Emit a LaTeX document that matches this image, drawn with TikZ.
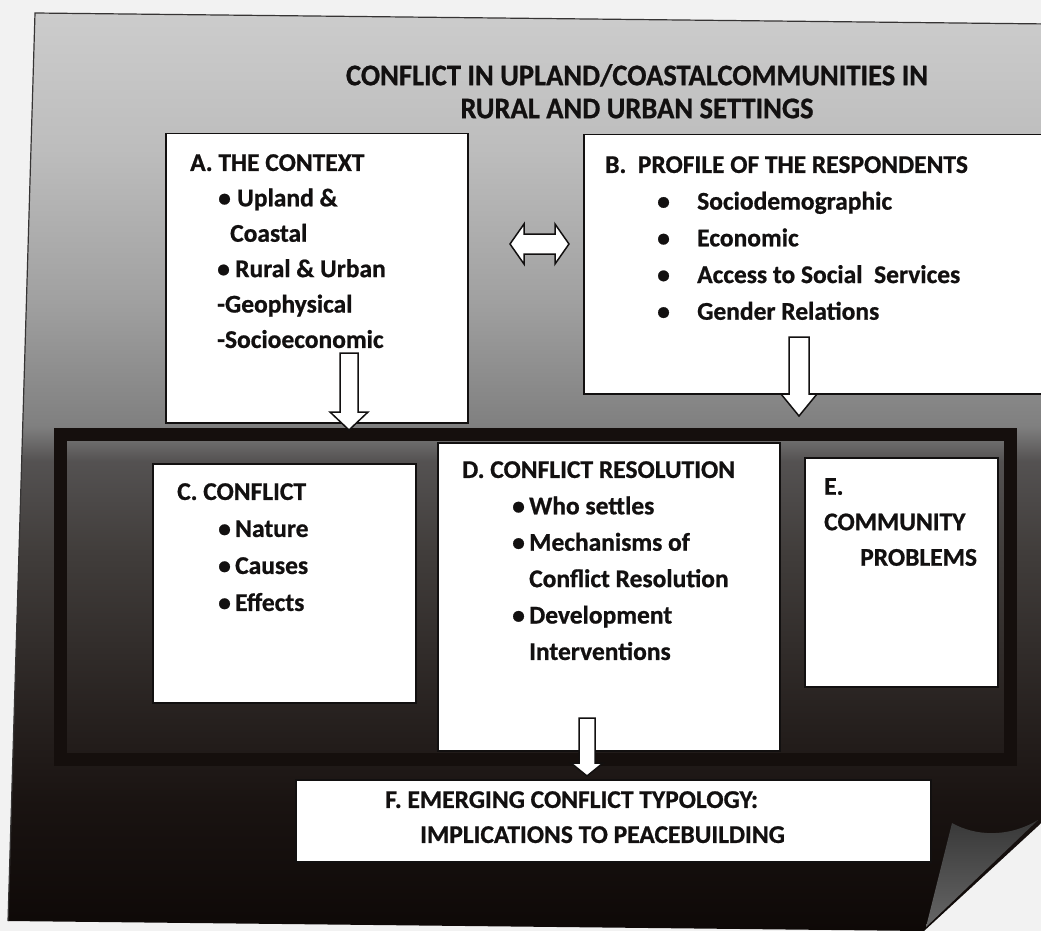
\documentclass[tikz,border=0pt]{standalone}
\usepackage{fontspec}
\setmainfont{Carlito}[BoldFeatures={FakeBold=0.8}]
\usetikzlibrary{calc}

\definecolor{ink}{HTML}{121010}
\definecolor{framecol}{HTML}{150f0d}
\definecolor{paperout}{HTML}{F2F2F2}

% sheet background: pale grey at the top, almost black at the foot
\pgfdeclareverticalshading{pagefade}{100bp}{%
  rgb(0bp)=(0.055,0.035,0.028); rgb(25bp)=(0.055,0.035,0.028);
  rgb(32bp)=(0.100,0.075,0.068); rgb(37.5bp)=(0.160,0.138,0.130);
  rgb(45.7bp)=(0.255,0.240,0.232); rgb(50.6bp)=(0.330,0.320,0.320);
  rgb(52.5bp)=(0.500,0.500,0.500); rgb(59.4bp)=(0.630,0.630,0.630);
  rgb(67.5bp)=(0.740,0.740,0.740); rgb(75bp)=(0.800,0.800,0.800);
  rgb(100bp)=(0.800,0.800,0.800)}

% hollow arrow pointing down: tail, tip, half shaft, half head, head length
\newcommand{\blockdown}[5]{%
  \draw[arrowbox] ($(#1)+(-#3,0)$) -- ($(#2)+(-#3,-#5)$) -- ($(#2)+(-#4,-#5)$)
    -- (#2) -- ($(#2)+(#4,-#5)$) -- ($(#2)+(#3,-#5)$) -- ($(#1)+(#3,0)$) -- cycle;}

\begin{document}
\begin{tikzpicture}[x=1pt, y=-1pt,
  box/.style={draw=ink, line width=1.5pt, fill=white, inner sep=0pt, anchor=north west},
  txt/.style={font=\fontsize{25.5}{36}\selectfont\bfseries, text=ink, align=left,
    inner sep=0pt, anchor=north west},
  arrowbox/.style={draw=ink, line width=1.5pt, fill=white}]

  \useasboundingbox (0,0) rectangle (1041,931);
  \fill[paperout] (0,0) rectangle (1041,931);

  % the sheet
  \shade[shading=pagefade] (35,13) -- (1050,24) -- (1050,815) -- (924,931) -- (8,921) -- cycle;
  \draw[ink!85, line width=1.2pt] (8,921) -- (35,13) -- (1050,24);

  % folded corner
  \shade[top color=black!78, bottom color=black!60]
    (926,927) -- (952,823) .. controls (975,836) and (1008,838) .. (1038,820) -- cycle;

  % frame round C, D and E
  \draw[framecol, line width=13pt] (60,434) rectangle (1010,759);

  \node[txt, align=center, anchor=north, xscale=0.95, font=\fontsize{30}{33}\selectfont\bfseries]
    (title) at (637,64) {CONFLICT IN UPLAND/COASTALCOMMUNITIES IN\\RURAL AND URBAN SETTINGS};

  \node[box, minimum width=302pt, minimum height=289pt] (ctx) at (165,133) {};
  \node[box, minimum width=480pt, minimum height=259pt] (prof) at (583,134) {};
  \node[box, minimum width=263pt, minimum height=239pt] (conf) at (152,463) {};
  \node[box, minimum width=342pt, minimum height=308pt] (res) at (437,442) {};
  \node[box, minimum width=193pt, minimum height=229pt] (comm) at (804,457) {};
  \node[box, minimum width=635pt, minimum height=82pt] (typo) at (295,779) {};

  \node[txt, font=\fontsize{25.5}{35.4}\selectfont\bfseries] (ctxText)
    at ([shift={(25,21)}]ctx.north west) {%
    A. THE CONTEXT\\
    \hspace*{28pt}\makebox[19pt][l]{\textbullet}Upland \&\\
    \hspace*{40pt}Coastal\\
    \hspace*{27pt}\makebox[18pt][l]{\textbullet}Rural \& Urban\\
    \hspace*{27pt}-Geophysical\\
    \hspace*{27pt}-Socioeconomic};

  \node[txt, font=\fontsize{25.5}{36.7}\selectfont\bfseries] (profText)
    at ([shift={(22,22)}]prof.north west) {%
    B.\ \ PROFILE OF THE RESPONDENTS\\
    \hspace*{52pt}\makebox[40pt][l]{\textbullet}Sociodemographic\\
    \hspace*{52pt}\makebox[40pt][l]{\textbullet}Economic\\
    \hspace*{52pt}\makebox[40pt][l]{\textbullet}Access to Social\ \ Services\\
    \hspace*{52pt}\makebox[40pt][l]{\textbullet}Gender Relations};

  \node[txt, font=\fontsize{25.5}{37}\selectfont\bfseries] (confText)
    at ([shift={(25,20)}]conf.north west) {%
    C. CONFLICT\\
    \hspace*{41pt}\makebox[17pt][l]{\textbullet}Nature\\
    \hspace*{41pt}\makebox[17pt][l]{\textbullet}Causes\\
    \hspace*{41pt}\makebox[17pt][l]{\textbullet}Effects};

  \node[txt, font=\fontsize{25.5}{36.4}\selectfont\bfseries] (resText)
    at ([shift={(25,19)}]res.north west) {%
    D. CONFLICT RESOLUTION\\
    \hspace*{50pt}\makebox[17pt][l]{\textbullet}Who settles\\
    \hspace*{50pt}\makebox[17pt][l]{\textbullet}Mechanisms of\\
    \hspace*{67pt}Conflict Resolution\\
    \hspace*{50pt}\makebox[17pt][l]{\textbullet}Development\\
    \hspace*{67pt}Interventions};

  \node[txt, font=\fontsize{25.5}{35.5}\selectfont\bfseries] (commText)
    at ([shift={(20,21)}]comm.north west) {%
    E.\\
    COMMUNITY\\
    \hspace*{36pt}PROBLEMS};

  \node[txt, font=\fontsize{25.5}{35}\selectfont\bfseries] (typoText)
    at ([shift={(90,12)}]typo.north west) {%
    F. EMERGING CONFLICT TYPOLOGY:\\
    \hspace*{35pt}IMPLICATIONS TO PEACEBUILDING};

  % hollow arrows
  \coordinate (ctxTail) at (349,353);  \coordinate (ctxTip) at (349,430);
  \coordinate (profTail) at (799,337); \coordinate (profTip) at (799,416);
  \coordinate (resTail) at (587,718);  \coordinate (resTip) at (587,776);
  \blockdown{ctxTail}{ctxTip}{9}{19}{18}
  \blockdown{profTail}{profTip}{10}{18}{22}
  \blockdown{resTail}{resTip}{8}{16}{13}

  % two-way arrow between A and B
  \coordinate (linkL) at (510,244); \coordinate (linkR) at (569,244);
  \draw[arrowbox] (linkL) -- ++(14,-20) -- ++(0,10) -- ($(linkR)+(-14,-10)$) -- ++(0,-10)
    -- (linkR) -- ++(-14,20) -- ++(0,-10) -- ($(linkL)+(14,10)$) -- ++(0,10) -- cycle;
\end{tikzpicture}
\end{document}
